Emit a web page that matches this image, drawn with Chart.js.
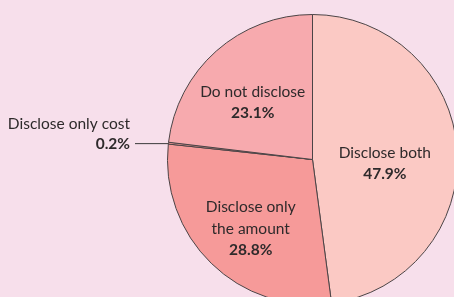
<!DOCTYPE html>
<html>
<head>
<meta charset="utf-8">
<script src="https://cdn.jsdelivr.net/npm/chart.js@4.4.1/dist/chart.umd.min.js"></script>
<style>
  html, body { margin: 0; padding: 0; background: #f7dfeb; overflow: hidden; width: 454px; height: 297px; }
  #wrap { position: absolute; left: 0; top: 0; width: 625px; height: 319px; }
</style>
</head>
<body>
<div id="wrap"><canvas id="pie"></canvas></div>
<script>
// Disclosure of research costs (share of respondents)
const categories = ['Disclose both', 'Disclose only the amount', 'Disclose only cost', 'Do not disclose'];
const labelLines = [['Disclose both'], ['Disclose only', 'the amount'], ['Disclose only cost'], ['Do not disclose']];
const shares = [47.9, 28.8, 0.2, 23.1];
const sliceColors = ['#fbc9c4', '#f69a99', '#f69a99', '#f7aaae'];

// label placement as fraction of radius along each slice's mid angle, plus small nudges
const labelRadius = [0.5, 0.63, null, 0.58];
const labelNudgeX = [0, 2, 0, -4];
const labelNudgeY = [9, 4, 1, 6];

const FONT = '"Lato", "Noto Sans", sans-serif';

const labelPlugin = {
  id: 'sliceLabels',
  afterDatasetsDraw(chart) {
    const ctx = chart.ctx;
    const arcs = chart.getDatasetMeta(0).data;
    ctx.save();
    ctx.fillStyle = '#2e2a2b';
    ctx.textBaseline = 'middle';
    arcs.forEach((arc, i) => {
      const mid = (arc.startAngle + arc.endAngle) / 2;
      const pct = shares[i].toFixed(1) + '%';
      const lines = labelLines[i];
      if (labelRadius[i] === null) {
        // outside label with leader line
        const ex = arc.x + Math.cos(mid) * arc.outerRadius;
        const ey = arc.y + Math.sin(mid) * arc.outerRadius;
        ctx.strokeStyle = '#3a3a3a';
        ctx.lineWidth = 1;
        ctx.beginPath();
        ctx.moveTo(ex, ey + 0.5);
        ctx.lineTo(135, ey + 0.5);
        ctx.stroke();
        ctx.textAlign = 'right';
        ctx.font = '15.5px ' + FONT;
        ctx.fillText(lines[0], 130, ey - 20 + labelNudgeY[i]);
        ctx.font = 'bold 15.5px ' + FONT;
        ctx.fillText(pct, 130, ey + labelNudgeY[i]);
        return;
      }
      const r = arc.outerRadius * labelRadius[i];
      const cx = arc.x + Math.cos(mid) * r + labelNudgeX[i];
      const cy = arc.y + Math.sin(mid) * r + labelNudgeY[i];
      const lh = 21.5;
      const total = lines.length + 1;
      let y = cy - (total - 1) * lh / 2;
      ctx.textAlign = 'center';
      ctx.font = '15.5px ' + FONT;
      lines.forEach(t => { ctx.fillText(t, cx, y); y += lh; });
      ctx.font = 'bold 15.5px ' + FONT;
      ctx.fillText(pct, cx, y);
    });
    ctx.restore();
  }
};

new Chart(document.getElementById('pie'), {
  type: 'pie',
  data: {
    labels: categories,
    datasets: [{
      data: shares,
      backgroundColor: sliceColors,
      borderColor: '#4b4446',
      borderWidth: 1
    }]
  },
  options: {
    responsive: true,
    maintainAspectRatio: false,
    animation: false,
    layout: { padding: { left: 167, right: 167, top: 14, bottom: 14 } },
    plugins: { legend: { display: false }, tooltip: { enabled: false } }
  },
  plugins: [labelPlugin]
});
</script>
</body>
</html>
